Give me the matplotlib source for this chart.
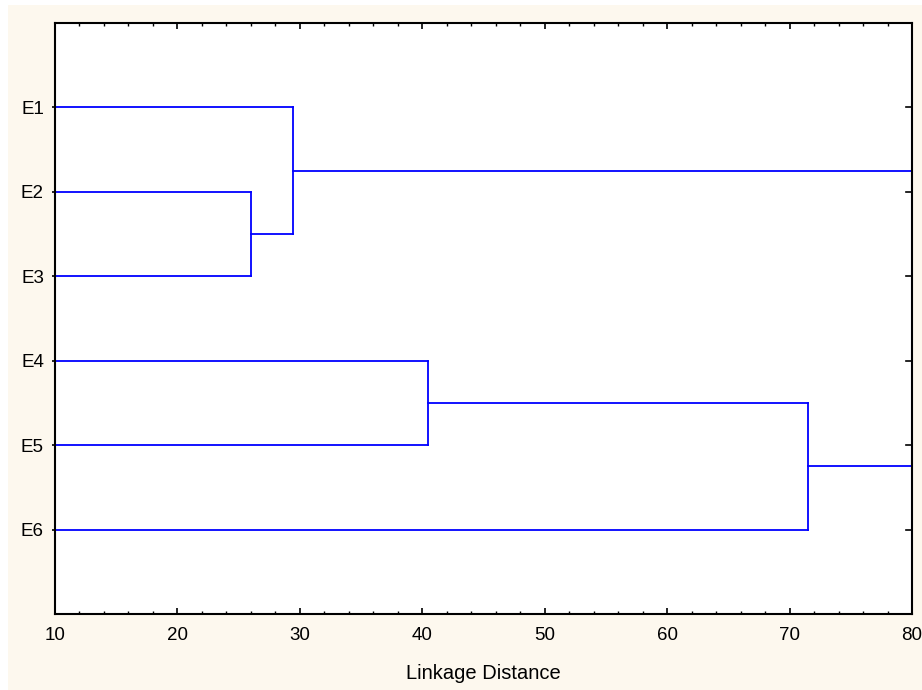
from matplotlib import pyplot as plt
from matplotlib.ticker import MultipleLocator
from matplotlib.patches import Rectangle

plt.rcParams['font.family'] = ['Liberation Sans', 'DejaVu Sans']

labels = ["E1", "E2", "E3", "E4", "E5", "E6"]
pos = [1, 2, 3, 4, 5, 6]
# linkage distances
d_23 = 26.0     # E2 + E3
d_1_23 = 29.45  # E1 + (E2,E3)
d_45 = 40.5     # E4 + E5
d_45_6 = 71.5   # (E4,E5) + E6
x_start = 10
x_end = 85      # top clusters run out past the axis

fig = plt.figure(figsize=(9.22, 6.9), dpi=100, facecolor="white")
fig.patches.append(Rectangle((8/922, 0), 1, 1-5/690, transform=fig.transFigure,
                             facecolor="#fdf8ee", edgecolor="none", zorder=-10))
ax = fig.add_axes([55/922, 1-614/690, 857/922, 591/690])
ax.set_facecolor("white")

col = "#0000ff"
lw = 1.3
ax.plot([x_start, d_23], [2, 2], color=col, lw=lw)
ax.plot([x_start, d_23], [3, 3], color=col, lw=lw)
ax.plot([d_23, d_23], [2, 3], color=col, lw=lw)
ax.plot([x_start, d_1_23], [1, 1], color=col, lw=lw)
ax.plot([d_23, d_1_23], [2.5, 2.5], color=col, lw=lw)
ax.plot([d_1_23, d_1_23], [1, 2.5], color=col, lw=lw)
ax.plot([d_1_23, x_end], [1.75, 1.75], color=col, lw=lw)
ax.plot([x_start, d_45], [4, 4], color=col, lw=lw)
ax.plot([x_start, d_45], [5, 5], color=col, lw=lw)
ax.plot([d_45, d_45], [4, 5], color=col, lw=lw)
ax.plot([d_45, d_45_6], [4.5, 4.5], color=col, lw=lw)
ax.plot([x_start, d_45_6], [6, 6], color=col, lw=lw)
ax.plot([d_45_6, d_45_6], [4.5, 6], color=col, lw=lw)
ax.plot([d_45_6, x_end], [5.25, 5.25], color=col, lw=lw)

ax.set_xlim(10, 80)
ax.set_ylim(7, 0)
ax.set_yticks(pos)
ax.set_yticklabels(labels)
ax.xaxis.set_major_locator(MultipleLocator(10))
ax.xaxis.set_minor_locator(MultipleLocator(2))
ax.tick_params(axis="x", which="both", direction="in", top=True, labelsize=13.5, pad=9)
ax.tick_params(axis="x", which="major", length=4, width=1.2)
ax.tick_params(axis="x", which="minor", length=2.5, width=1)
ax.tick_params(axis="y", which="both", direction="out", right=False, labelsize=13.5, length=2, width=1.2, pad=6)
for yy in pos:
    ax.plot([79.5, 80], [yy, yy], color="black", lw=1.2, clip_on=False)
for s in ax.spines.values():
    s.set_linewidth(1.5)
ax.set_xlabel("Linkage Distance", fontsize=14.5, labelpad=15)

plt.savefig("out.png", dpi=100, facecolor=fig.get_facecolor())
